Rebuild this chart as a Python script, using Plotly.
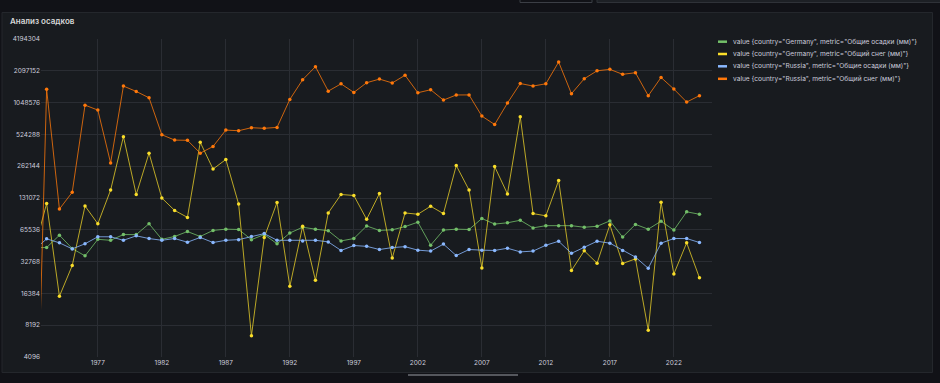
import math
import plotly.graph_objects as go

years = list(range(1972, 2025))

germany_precip = [44470, 44500, 58260, 43550, 37130, 53230, 52140, 59080, 59000, 74800,
                  53230, 56660, 63090, 56660, 64650, 66450, 66000, 52870, 59080, 48310,
                  61150, 69270, 66450, 64200, 51420, 54170, 71230, 64650, 65536, 70240,
                  77400, 46830, 65090, 66450, 65990, 83820, 74250, 76350, 80680, 68320,
                  71720, 71700, 71700, 69270, 70740, 79580, 55870, 73740, 66450, 79030,
                  65090, 96950, 92000]

germany_snow = [40900, 116500, 15400, 30050, 110200, 74800, 155900, 499400, 141500, 348400,
                131000, 100000, 85900, 441000, 246300, 303400, 114900, 6500, 55500, 119000,
                19100, 70700, 21770, 94600, 141500, 138500, 82400, 144400, 35360, 94600,
                92000, 109500, 93300, 265800, 155900, 28530, 260300, 143400, 770300, 93300,
                88900, 191900, 26990, 41480, 31650, 72970, 31440, 34760, 7330, 119800,
                25000, 49320, 23020]

russia_precip = [42050, 53790, 49320, 43240, 48310, 56270, 56270, 52140, 57450, 54170,
                 52140, 54170, 50010, 55490, 49670, 52140, 52870, 56660, 60310, 52140,
                 52140, 51420, 52140, 50360, 41770, 46500, 45700, 42630, 44470, 45380,
                 42050, 41180, 47980, 37390, 42630, 42050, 41770, 43850, 40490, 41180,
                 46830, 51060, 39230, 44780, 51060, 48980, 41770, 36130, 28330, 48980,
                 54170, 54170, 49670]

russia_snow = [60, 1400000, 103000, 148500, 992000, 891000, 281000, 1504000, 1337000, 1164000,
               520700, 463000, 461000, 348400, 402900, 575800, 568000, 606700, 598400, 610800,
               1123800, 1727000, 2295000, 1346000, 1578000, 1309000, 1617000, 1751000, 1610000, 1903000,
               1300000, 1388000, 1108000, 1238000, 1240000, 781600, 650100, 1037500, 1589000, 1504000,
               1580000, 2539000, 1273000, 1764000, 2097000, 2164000, 1943000, 2011000, 1218000, 1813000,
               1409000, 1061000, 1220000]

series_names = [
    'value {country="Germany", metric="Общие осадки (мм)"}',
    'value {country="Germany", metric="Общий снег (мм)"}',
    'value {country="Russia", metric="Общие осадки (мм)"}',
    'value {country="Russia", metric="Общий снег (мм)"}',
]
series_values = [germany_precip, germany_snow, russia_precip, russia_snow]
colors = ["#73bf69", "#fade2a", "#8ab8ff", "#ff780a"]
line_colors = ["rgba(115,191,105,0.8)", "rgba(250,222,42,0.72)",
               "rgba(138,184,255,0.8)", "rgba(255,120,10,0.78)"]

x_ticks = [1977, 1982, 1987, 1992, 1997, 2002, 2007, 2012, 2017, 2022]
y_ticks = [4096, 8192, 16384, 32768, 65536, 131072, 262144, 524288, 1048576, 2097152, 4194304]

title_text = "Анализ осадков"

# layout geometry (pixels)
W, H = 940, 383
ML, MR, MT, MB = 41, 228, 39, 26
PW = W - ML - MR
PH = H - MT - MB


def px(x):
    return (x - ML) / PW


def py(y):
    return (H - MB - y) / PH


FONT = "Inter, Roboto, sans-serif"
TXT = "#ccccdc"
GRID = "#2a2d33"

fig = go.Figure()
for name, vals, col, lcol in zip(series_names, series_values, colors, line_colors):
    fig.add_trace(go.Scatter(
        x=years, y=vals, name=name, mode="lines+markers",
        line=dict(color=lcol, width=1),
        marker=dict(color=col, size=3.5),
        showlegend=False,
    ))

shapes = [
    dict(type="rect", xref="paper", yref="paper", layer="below",
         x0=px(2), x1=px(932.5), y0=py(372.5), y1=py(12.5),
         fillcolor="#181b1f", line=dict(color="#24272c", width=1)),
    dict(type="rect", xref="paper", yref="paper", layer="below",
         x0=px(520), x1=px(592), y0=py(2.5), y1=py(-10),
         fillcolor="#111217", line=dict(color="#3b3e45", width=1)),
    dict(type="rect", xref="paper", yref="paper", layer="below",
         x0=px(597), x1=px(950), y0=py(2.5), y1=py(-10),
         fillcolor="#1d2025", line=dict(color="#2f3238", width=1)),
    dict(type="line", xref="paper", yref="paper", layer="above",
         x0=px(408), x1=px(518), y0=py(375), y1=py(375),
         line=dict(color="#55575d", width=2)),
]

annotations = [
    dict(xref="paper", yref="paper", x=px(7.5), y=py(21), xanchor="left", yanchor="middle",
         text=title_text, showarrow=False,
         font=dict(family=FONT, size=8, color="#d8d9da", weight=600)),
]

legend_rows = [41.7, 54.0, 66.3, 78.8]
for name, col, ry in zip(series_names, colors, legend_rows):
    shapes.append(dict(type="line", xref="paper", yref="paper", layer="above",
                       x0=px(718), x1=px(727), y0=py(ry), y1=py(ry),
                       line=dict(color=col, width=2.5)))
    annotations.append(dict(xref="paper", yref="paper", x=px(730.5), y=py(ry),
                            xanchor="left", yanchor="middle", text=name, showarrow=False,
                            font=dict(family=FONT, size=6.6, color=TXT)))

fig.update_layout(
    width=W, height=H, autosize=False,
    margin=dict(l=ML, r=MR, t=MT, b=MB, pad=0),
    paper_bgcolor="#111217",
    plot_bgcolor="rgba(0,0,0,0)",
    shapes=shapes,
    annotations=annotations,
    showlegend=False,
    xaxis=dict(
        range=[1972.56, 2024.98],
        tickvals=x_ticks, ticktext=[str(v) for v in x_ticks],
        showgrid=True, gridcolor=GRID, gridwidth=1,
        zeroline=False, showline=False, ticks="",
        tickfont=dict(family=FONT, size=6.5, color=TXT),
        fixedrange=True,
    ),
    yaxis=dict(
        type="log",
        range=[math.log10(y_ticks[0]), math.log10(y_ticks[-1])],
        tickvals=y_ticks, ticktext=[str(v) for v in y_ticks],
        showgrid=True, gridcolor=GRID, gridwidth=1,
        zeroline=False, showline=False, ticks="",
        tickfont=dict(family=FONT, size=6.5, color=TXT),
        fixedrange=True,
    ),
)

fig.write_html(
    "out.html",
    config={"displayModeBar": False},
    post_script="document.body.style.margin='0';document.body.style.overflow='hidden';",
)
